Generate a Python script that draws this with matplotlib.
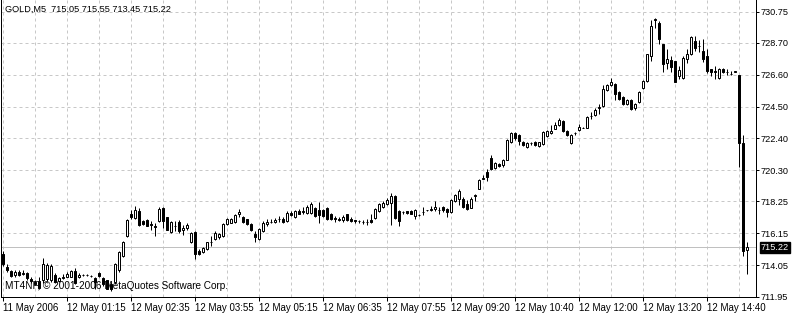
import matplotlib
matplotlib.use("Agg")
import matplotlib.pyplot as plt
import numpy as np

plt.rcParams["font.family"] = ["Liberation Sans", "DejaVu Sans"]
plt.rcParams["font.size"] = 7

# GOLD, M5 bars (open, high, low, close)
opens = [
    714.77, 713.95, 713.65, 713.40, 713.60, 713.45, 713.55, 713.15, 712.95, 713.00,
    713.05, 713.15, 713.10, 713.40, 713.00, 713.20, 713.30, 713.30, 713.65, 713.30,
    713.40, 713.40, 713.35, 713.20, 713.55, 713.20, 713.05, 712.80, 712.95, 713.70,
    714.68, 715.95, 717.45, 717.18, 717.62, 716.97, 717.03, 716.75, 716.60, 716.97,
    717.84, 717.20, 716.25, 716.65, 716.90, 716.38, 716.51, 715.58, 716.25, 715.01,
    714.90, 715.12, 715.55, 715.77, 715.88, 715.99, 716.75, 716.86, 716.90, 717.40,
    717.25, 717.07, 716.75, 716.09, 715.77, 716.31, 716.75, 716.90, 716.90, 717.10,
    717.10, 716.97, 717.50, 717.23, 717.60, 717.55, 717.50, 717.50, 717.84, 717.70,
    717.70, 717.84, 717.40, 717.15, 717.10, 717.00, 717.40, 717.10, 717.00, 716.95,
    716.92, 716.90, 717.00, 717.18, 717.62, 717.88, 718.10, 718.16, 718.60, 717.62,
    717.55, 717.60, 717.63, 717.29, 717.36, 717.55, 717.66, 717.68, 717.72, 717.68,
    717.86, 717.75, 717.53, 718.25, 718.38, 718.38, 718.10, 717.84, 718.60, 719.10,
    719.75, 720.16, 721.10, 720.44, 720.75, 720.62, 720.98, 722.14, 722.79, 722.66,
    722.19, 721.86, 722.10, 722.19, 721.92, 722.01, 722.55, 722.75, 723.05, 723.31,
    723.53, 722.90, 722.10, 722.75, 722.97, 723.12, 723.12, 723.86, 723.97, 724.44,
    724.51, 725.58, 725.92, 726.00, 725.45, 725.12, 724.68, 724.96, 724.40, 724.81,
    725.70, 726.20, 727.83, 730.20, 730.01, 728.60, 727.40, 727.55, 727.49, 726.53,
    726.36, 727.66, 727.99, 728.81, 728.53, 728.16, 727.84, 726.97, 726.82, 726.36,
    727.01, 726.80, 726.65, 726.80, 726.57, 722.07, 715.05,
]
highs = [
    715.00, 714.10, 713.75, 713.70, 713.75, 713.70, 713.60, 713.25, 713.10, 713.30,
    714.50, 714.20, 714.10, 713.50, 713.30, 713.45, 713.60, 713.75, 713.85, 713.50,
    713.45, 713.45, 713.40, 713.30, 713.60, 713.30, 713.10, 712.90, 714.20, 715.00,
    715.65, 717.10, 717.70, 717.98, 717.80, 717.05, 717.10, 716.95, 716.80, 717.90,
    717.90, 717.25, 716.95, 716.95, 717.00, 716.70, 716.80, 716.25, 716.30, 715.10,
    715.25, 715.60, 716.00, 716.30, 716.20, 716.85, 717.15, 717.15, 717.40, 717.75,
    717.30, 717.10, 716.80, 716.30, 716.50, 716.95, 717.10, 717.10, 717.15, 717.30,
    717.20, 717.65, 717.60, 717.70, 717.75, 717.90, 718.00, 718.20, 717.90, 718.20,
    717.75, 717.90, 717.50, 717.30, 717.25, 717.35, 717.45, 717.20, 717.05, 717.05,
    717.00, 717.10, 717.40, 717.80, 718.15, 718.30, 718.50, 718.79, 718.70, 717.70,
    717.65, 717.65, 717.70, 717.75, 717.40, 717.88, 717.70, 717.94, 718.27, 717.90,
    717.95, 717.85, 718.40, 718.75, 719.10, 718.55, 718.36, 718.55, 718.75, 719.75,
    720.00, 720.38, 721.30, 720.85, 720.80, 721.05, 722.35, 722.85, 722.85, 722.70,
    722.25, 722.20, 722.20, 722.25, 722.20, 722.90, 722.95, 723.27, 723.50, 723.77,
    723.60, 722.95, 722.70, 722.85, 723.38, 723.15, 723.90, 724.14, 724.39, 724.68,
    725.90, 726.00, 726.36, 726.05, 725.50, 725.20, 725.00, 725.00, 724.75, 725.55,
    726.25, 728.00, 730.23, 730.34, 730.12, 728.65, 728.32, 727.84, 727.52, 727.18,
    727.82, 728.27, 729.18, 729.18, 728.88, 728.97, 728.32, 727.00, 727.18, 727.05,
    727.05, 726.95, 726.84, 726.85, 726.60, 722.66, 715.55,
]
lows = [
    714.00, 713.60, 713.25, 713.30, 713.35, 713.40, 713.10, 712.90, 712.75, 712.50,
    712.85, 713.00, 712.95, 712.90, 712.95, 713.15, 713.25, 713.25, 712.80, 713.20,
    713.35, 713.35, 713.30, 712.50, 713.30, 712.70, 712.45, 712.35, 712.80, 713.60,
    714.60, 715.90, 717.10, 717.10, 716.60, 716.70, 716.60, 716.40, 716.00, 716.90,
    716.50, 716.35, 716.20, 716.30, 716.20, 716.05, 716.40, 715.50, 714.45, 714.70,
    714.85, 715.05, 715.30, 715.70, 715.80, 715.90, 716.70, 716.80, 716.85, 717.20,
    716.85, 716.70, 716.30, 715.60, 715.70, 716.25, 716.60, 716.80, 716.85, 716.90,
    716.85, 716.90, 717.30, 717.15, 717.40, 717.40, 717.45, 717.45, 717.20, 716.80,
    717.20, 717.00, 717.00, 716.90, 716.95, 716.90, 716.95, 716.90, 716.85, 716.80,
    716.75, 716.70, 716.80, 717.10, 717.55, 717.80, 718.00, 716.68, 717.10, 716.60,
    717.45, 717.45, 717.40, 717.07, 717.30, 717.35, 717.62, 717.62, 717.65, 717.45,
    717.55, 717.23, 717.50, 718.20, 718.00, 717.80, 717.70, 717.80, 718.30, 719.05,
    719.70, 719.58, 720.35, 720.40, 720.50, 720.55, 720.95, 722.10, 722.30, 722.00,
    721.90, 721.80, 722.00, 721.90, 721.85, 721.95, 722.50, 722.70, 723.00, 723.25,
    722.85, 722.55, 722.05, 722.60, 722.90, 723.10, 723.10, 723.70, 723.90, 724.03,
    724.45, 725.50, 725.85, 724.96, 724.95, 724.60, 724.60, 724.30, 724.30, 724.75,
    725.65, 726.10, 727.50, 729.70, 728.60, 726.77, 726.97, 726.79, 726.10, 726.31,
    726.30, 727.40, 727.90, 728.16, 728.10, 727.44, 726.75, 726.53, 726.31, 726.30,
    726.75, 726.60, 726.58, 726.78, 720.49, 714.68, 713.45,
]
closes = [
    714.12, 713.70, 713.35, 713.60, 713.40, 713.55, 713.20, 713.00, 712.80, 712.55,
    714.14, 714.05, 714.00, 712.95, 713.20, 713.30, 713.45, 713.65, 712.90, 713.40,
    713.40, 713.38, 713.35, 712.95, 713.35, 712.80, 712.50, 712.45, 714.14, 714.90,
    715.55, 717.05, 717.20, 717.68, 716.68, 716.75, 716.64, 716.70, 716.57, 717.73,
    716.97, 716.40, 716.90, 716.62, 716.31, 716.51, 716.68, 716.20, 714.79, 714.79,
    715.16, 715.55, 715.60, 716.20, 716.09, 716.75, 717.07, 717.07, 717.33, 717.57,
    716.90, 716.75, 716.36, 715.88, 716.42, 716.86, 716.90, 716.92, 717.05, 717.12,
    716.90, 717.49, 717.35, 717.62, 717.45, 717.60, 717.88, 718.05, 717.29, 717.35,
    717.30, 717.07, 717.07, 717.10, 717.05, 717.25, 717.05, 716.95, 716.98, 716.95,
    716.90, 716.88, 716.92, 717.73, 718.05, 718.16, 718.37, 718.60, 717.18, 716.97,
    717.57, 717.50, 717.45, 717.66, 717.36, 717.58, 717.66, 717.72, 717.90, 717.68,
    717.68, 717.53, 718.33, 718.66, 718.92, 717.88, 717.77, 718.44, 718.70, 719.68,
    719.80, 719.84, 720.40, 720.77, 720.57, 720.98, 722.29, 722.79, 722.40, 722.22,
    721.96, 722.12, 722.10, 721.96, 722.15, 722.84, 722.88, 722.90, 723.31, 723.64,
    722.88, 722.62, 722.66, 722.75, 723.15, 723.12, 723.84, 723.88, 724.29, 724.46,
    725.66, 725.94, 726.10, 725.34, 725.01, 724.68, 724.96, 724.36, 724.68, 725.47,
    726.20, 727.95, 729.84, 730.28, 728.97, 727.34, 727.66, 727.14, 726.14, 726.92,
    727.73, 727.95, 729.10, 728.38, 728.47, 727.62, 726.86, 726.79, 726.78, 726.97,
    726.79, 726.78, 726.64, 726.82, 722.07, 714.96, 715.22,
]

time_labels = ["11 May 2006", "12 May 01:15", "12 May 02:35", "12 May 03:55",
               "12 May 05:15", "12 May 06:35", "12 May 07:55", "12 May 09:20",
               "12 May 10:40", "12 May 12:00", "12 May 13:20", "12 May 14:40"]
price_ticks = [730.75, 728.70, 726.60, 724.50, 722.40, 720.30, 718.25,
               716.15, 714.05, 711.95]
price_labels = ["730.75", "728.70", "726.60", "724.50", "722.40", "720.30",
                "718.25", "716.15", "714.05", "711.95"]
bid = 715.22
header = "GOLD,M5  715.05 715.55 713.45 715.22"
watermark = "MT4NF, \u00a9 2001-2006 MetaQuotes Software Corp."

o = np.array(opens)
h = np.array(highs)
l = np.array(lows)
c = np.array(closes)
x = np.arange(len(o))
up = c >= o

px = 72 / 100  # one pixel in points
fig = plt.figure(figsize=(7.92, 3.14), dpi=100)
ax = fig.add_axes([1 / 792, 17 / 314, 755 / 792, 297 / 314])

ax.set_xlim(-0.5, 188.25)
ax.set_ylim(711.95, 731.53)

# grid: major ticks carry the time labels, minor ones only add grid lines
ax.set_xticks(np.arange(0, len(o), 16))
ax.set_xticks(np.arange(8, 188, 8), minor=True)
ax.set_xticklabels(time_labels, ha="left")
ax.set_yticks(price_ticks)
ax.set_yticklabels(price_labels, ha="left", fontsize=6.6)
ax.grid(True, which="both", color="#c8c8c8", linestyle=(0, (3, 3)), linewidth=px)
ax.set_axisbelow(True)

# bid line
ax.axhline(bid, color="#c0c0c0", linewidth=px, zorder=1)

# candles
ax.vlines(x, l, h, color="black", linewidth=px, zorder=2)
ax.bar(x[up], c[up] - o[up], bottom=o[up], width=0.5, color="white",
       edgecolor="black", linewidth=px, zorder=3)
ax.bar(x[~up], o[~up] - c[~up], bottom=c[~up], width=0.5, color="black",
       edgecolor="black", linewidth=px, zorder=3)

ax.tick_params(axis="y", left=False, labelleft=False, right=True,
               labelright=True, length=2, width=px, pad=1.5)
ax.tick_params(axis="x", which="major", length=3, width=px, pad=1)
ax.tick_params(axis="x", which="minor", length=0)
for s in ["left", "right", "bottom"]:
    ax.spines[s].set_linewidth(px)
ax.spines["top"].set_visible(False)

ax.text(0.005, 0.985, header, transform=ax.transAxes, ha="left", va="top",
        fontsize=6.6)
ax.text(0.005, 0.02, watermark, transform=ax.transAxes, ha="left",
        va="bottom", fontsize=7.2, zorder=5)
ax.annotate("715.22", xy=(1.0, bid), xycoords=("axes fraction", "data"),
            xytext=(3.5, 0), textcoords="offset points", ha="left", va="center",
            color="white", fontsize=6.6,
            bbox=dict(boxstyle="square,pad=0.12", fc="black", ec="black"),
            annotation_clip=False, zorder=6)

fig.savefig("out.png", dpi=100)
